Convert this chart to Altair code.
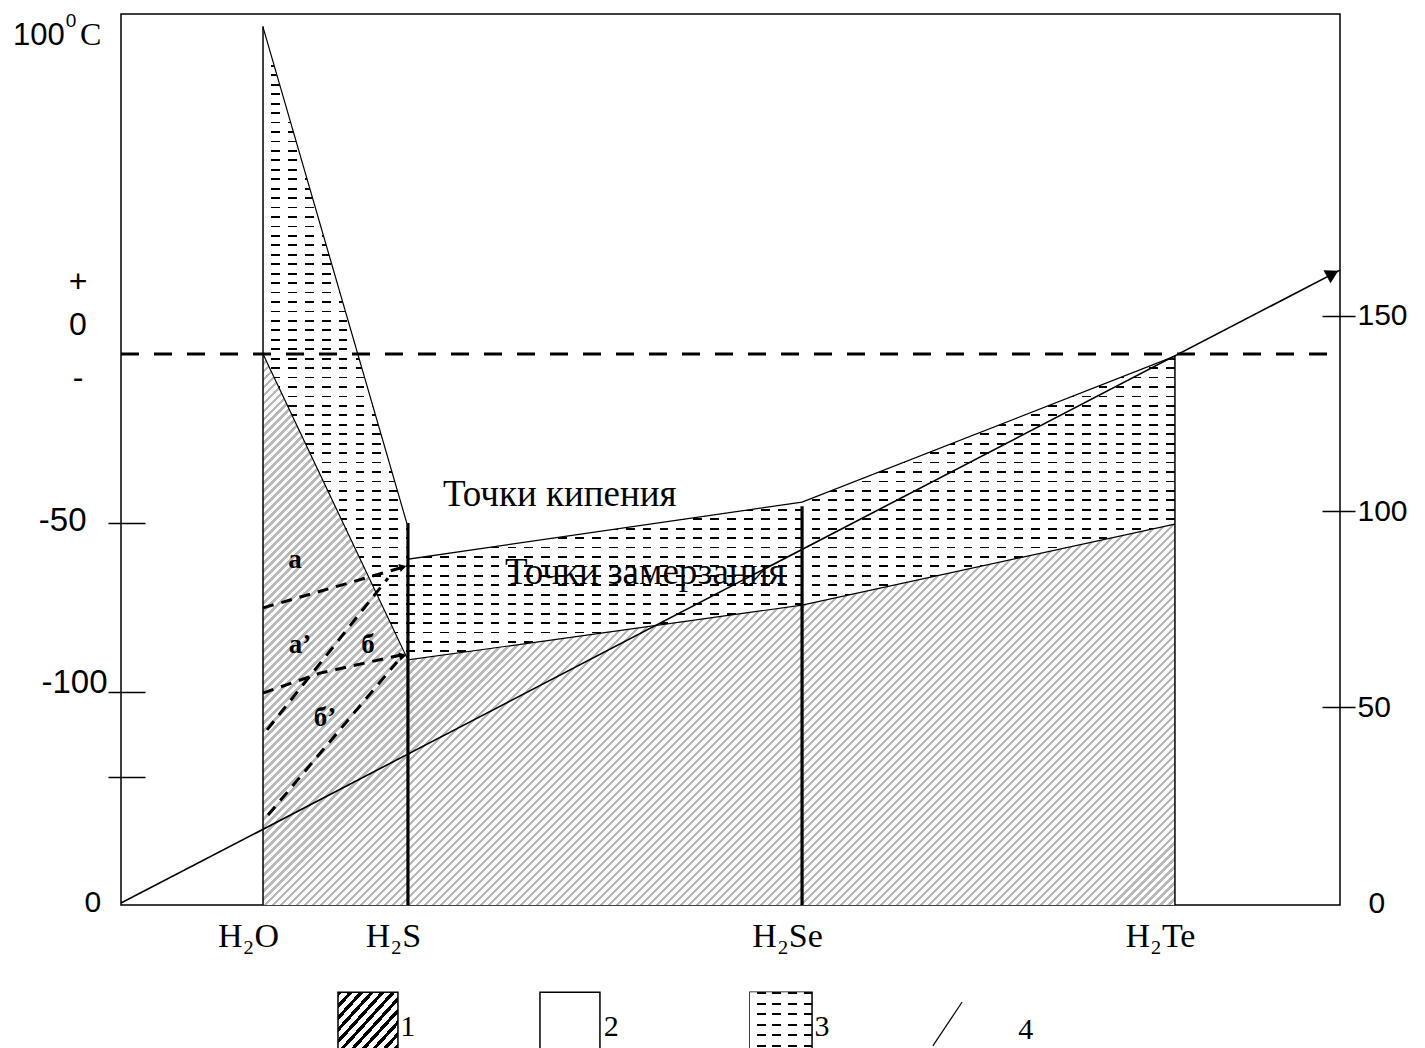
import altair as alt
import pandas as pd

# ---------------- values ----------------
compounds     = ["H₂O", "H₂S", "H₂Se", "H₂Te"]
compound_x    = [11.65, 23.54, 55.87, 86.46]          # position on the 0–100 horizontal scale
column_top_t  = [97.0, -50.0, -45.0, -0.3]            # upper ends of the compound lines, °C
column_width  = [1.5, 3.2, 3.2, 1.5]                  # style

# liquid band (3): boiling edge and freezing edge, H2S appears twice (kink)
band_x        = [11.65, 23.54, 23.54, 55.87, 86.46]
boiling_t     = [96.7, -51.2, -60.7, -43.8, -0.6]
band_freeze_t = [0.0, -90.5, -90.5, -74.3, -50.3]
freezing_t    = [0.0, -90.5, -74.3, -50.3]            # solid region (1) upper edge

# zero-degree dashed line
zero_x, zero_x2, zero_t = [0.0], [100.0], [0.0]

# line 4: molar mass (right scale)
mass_x        = [0.0, 100.0]
mass_m        = [0.0, 161.6]
mass_arrow_x  = [99.4]
mass_arrow_m  = [160.7]

# dashed transition lines a, a', б, б'
trans_name    = ["a", "a", "a2", "a2", "a2", "b", "b", "b2", "b2"]
trans_x       = [11.65, 22.89, 11.65, 16.32, 22.89, 11.98, 21.90, 12.06, 22.64]
trans_t       = [-75.1, -63.3, -100.3, -94.4, -89.1, -111.2, -66.3, -136.4, -91.1]
trans_arrow_x = [23.13, 23.13]
trans_arrow_t = [-63.0, -89.3]
trans_arrow_angle = [344, 347]

left_ticks    = [-50, -100, -125]
right_ticks   = [0, 50, 100, 150]

phase_labels  = ["а", "а’", "б", "б’"]
phase_x       = [14.27, 14.68, 20.26, 16.73]
phase_t       = [-60.9, -86.1, -86.1, -107.7]

curve_labels  = ["Точки кипения", "Точки замерзания"]
curve_x       = [26.41, 31.50]
curve_t       = [-41.7, -64.8]

side_labels   = ["+", "0", "-"]
side_x        = [-3.53, -3.53, -3.53]
side_t        = [21.3, 8.6, -7.1]

legend_keys   = ["1", "2", "3", "4"]
legend_key_x  = [22.9, 39.6, 56.9, 73.6]
legend_key_t  = [-199.1, -199.1, -199.1, -200.0]
legend_box_x  = [17.80, 34.37, 51.60]
legend_box_x2 = [22.72, 39.29, 56.69]
legend_box_t  = [-188.8, -188.8, -188.8]
legend_box_t2 = [-207.4, -207.4, -207.4]
legend_line_x = [66.6, 69.0]
legend_line_t = [-204.7, -191.7]

T_MIN, T_MAX = -163.0, 100.6
M_MIN, M_MAX = -0.5, 227.0
W, H = 1219, 891

# ---------------- helpers ----------------
def stripes(n, on, off, frac):
    stops = []
    for i in range(n):
        a, b, c = i / n, (i + frac) / n, (i + 1) / n
        stops += [{"color": on, "offset": round(a, 6)}, {"color": on, "offset": round(b, 6)},
                  {"color": off, "offset": round(b, 6)}, {"color": off, "offset": round(c, 6)}]
    return stops

def diag_gradient(w, h, period, on, off, frac):
    r = h / w
    k = (1 + r) / (1 + r * r)
    n = max(1, round((w + h) / period))
    return {"gradient": "linear", "x1": 0, "y1": 0, "x2": round(k, 5), "y2": round(k * r, 5),
            "stops": stripes(n, on, off, frac)}

def rows_gradient(h, period, frac):
    return {"gradient": "linear", "x1": 0, "y1": 0, "x2": 0, "y2": 1,
            "stops": stripes(max(1, round(h / period)), "black", "white", frac)}

def gaps_gradient(w, period, frac):
    return {"gradient": "linear", "x1": 0, "y1": 0, "x2": 1, "y2": 0,
            "stops": stripes(max(1, round(w / period)), "white", "rgba(255,255,255,0)", frac)}

thresholds = [(compound_x[i] + compound_x[i + 1]) / 2 for i in range(len(compound_x) - 1)]
label_expr = ""
for th, name in zip(thresholds, compounds[:-1]):
    label_expr += f"datum.value < {th:.2f} ? '{name}' : "
label_expr += f"'{compounds[-1]}'"

xscale = alt.Scale(domain=[0, 100], nice=False, zero=False)
yscale = alt.Scale(domain=[T_MIN, T_MAX], nice=False, zero=False)
mscale = alt.Scale(domain=[M_MIN, M_MAX], nice=False, zero=False)

x_axis = alt.Axis(values=compound_x, labelExpr=label_expr, tickSize=0, domain=False, grid=False,
                  title=None, labelFont="Liberation Serif", labelFontSize=34, labelColor="black",
                  labelPadding=14, labelOffset=-15, labelOverlap=False)
y_axis = alt.Axis(values=left_ticks, orient="left", title=None, grid=False, domain=False,
                  labelExpr="datum.value == -125 ? '' : '' + datum.value",
                  tickSize=37, offset=-24, tickColor="black", tickWidth=1.5,
                  labelFont="Liberation Sans", labelFontSize=33, labelColor="black",
                  labelBaseline="alphabetic",
                  labelPadding={"condition": {"test": "datum.value == -50", "value": 22}, "value": 1},
                  labelOffset={"condition": {"test": "datum.value == -50", "value": 7}, "value": 0})
m_axis = alt.Axis(values=right_ticks, orient="right", title=None, grid=False, domain=False,
                  tickSize=33, offset=-18, tickColor="black", tickWidth=1.5,
                  tickOpacity={"condition": {"test": "datum.value == 0", "value": 0}, "value": 1},
                  labelFont="Liberation Sans", labelFontSize=30, labelColor="black",
                  labelBaseline="middle",
                  labelPadding={"condition": {"test": "datum.value == 0", "value": 13}, "value": 2})

X = alt.X("x:Q", scale=xscale, axis=x_axis)
Y = alt.Y("t:Q", scale=yscale, axis=y_axis)
Y2 = alt.Y2("t2:Q")

# ---------------- tables ----------------
solid_df = pd.DataFrame({"x": compound_x, "t": freezing_t, "t2": [T_MIN] * len(compound_x)})
band_df = pd.DataFrame({"x": band_x, "t": boiling_t, "t2": band_freeze_t})
boil_df = pd.DataFrame({"x": band_x, "t": boiling_t})
freeze_df = pd.DataFrame({"x": compound_x, "t": freezing_t})
cols_df = pd.DataFrame({"x": compound_x, "t": column_top_t, "t2": [T_MIN] * 4, "w": column_width})
zero_df = pd.DataFrame({"x": zero_x, "x2": zero_x2, "t": zero_t})
trans_df = pd.DataFrame({"x": trans_x, "t": trans_t, "name": trans_name})
tarrow_df = pd.DataFrame({"x": trans_arrow_x, "t": trans_arrow_t, "a": trans_arrow_angle})
mass_df = pd.DataFrame({"x": mass_x, "m": mass_m})
marrow_df = pd.DataFrame({"x": mass_arrow_x, "m": mass_arrow_m})

# ---------------- layers ----------------
solid = alt.Chart(solid_df).mark_area(
    fill=diag_gradient(912, 551, 8, "#b8b8b8", "white", 0.42)
).encode(x=X, y=Y, y2=Y2)

band_rows = alt.Chart(band_df).mark_area(fill=rows_gradient(633, 9.5, 0.19)).encode(x=X, y=Y, y2=Y2)
band_gaps = alt.Chart(band_df).mark_area(fill=gaps_gradient(912, 17, 0.48)).encode(x=X, y=Y, y2=Y2)

boil_line = alt.Chart(boil_df).mark_line(color="black", strokeWidth=1.2).encode(x=X, y=Y)
freeze_line = alt.Chart(freeze_df).mark_line(color="black", strokeWidth=1.2).encode(x=X, y=Y)

zero_line = alt.Chart(zero_df).mark_rule(color="black", strokeWidth=3, strokeDash=[18, 15]).encode(
    x=X, x2="x2:Q", y=Y)

columns = alt.Chart(cols_df).mark_rule(color="black").encode(
    x=X, y=Y, y2=Y2, strokeWidth=alt.StrokeWidth("w:Q", scale=None))

trans = alt.Chart(trans_df).mark_line(color="black", strokeWidth=3, strokeDash=[11, 8]).encode(
    x=X, y=Y, detail="name:N")
trans_arrows = alt.Chart(tarrow_df).mark_point(
    shape="triangle-right", filled=True, color="black", size=70, opacity=1).encode(
    x=X, y=Y, angle=alt.Angle("a:Q", scale=None))

def texts(labels, xs, ts, **kw):
    df = pd.DataFrame({"x": xs, "t": ts, "label": labels})
    return alt.Chart(df).mark_text(color="black", **kw).encode(x=X, y=Y, text="label:N")

curve_text = texts(curve_labels, curve_x, curve_t, font="Liberation Serif", fontSize=37,
                   align="left", baseline="middle")
phase_text = texts(phase_labels, phase_x, phase_t, font="Liberation Serif", fontSize=27,
                   fontWeight="bold", align="center", baseline="middle")
side_text = texts(side_labels, side_x, side_t, font="Liberation Sans", fontSize=32,
                  align="center", baseline="middle")
hundred = texts(["100"], [-8.86], [91.4], font="Liberation Sans", fontSize=31,
                align="left", baseline="alphabetic")
degree = texts(["0"], [-4.10], [98.5], font="Liberation Sans", fontSize=19,
               align="center", baseline="middle")
celsius = texts(["C"], [-3.36], [91.4], font="Liberation Serif", fontSize=32,
                align="left", baseline="alphabetic")
origin0 = texts(["0"], [-2.30], [-162.4], font="Liberation Sans", fontSize=30,
                align="center", baseline="middle")

# legend
box_df = pd.DataFrame({"x": legend_box_x, "x2": legend_box_x2, "t": legend_box_t, "t2": legend_box_t2})
def box(i, fill):
    return alt.Chart(box_df.iloc[[i]]).mark_rect(fill=fill, stroke="black", strokeWidth=1.5).encode(
        x=X, x2="x2:Q", y=Y, y2=Y2)
box1 = box(0, diag_gradient(60, 57, 11, "black", "white", 0.42))
box2 = box(1, "white")
box3 = box(2, rows_gradient(57, 9.5, 0.19))
box3g = alt.Chart(box_df.iloc[[2]]).mark_rect(fill=gaps_gradient(60, 15, 0.45)).encode(
    x=X, x2="x2:Q", y=Y, y2=Y2)
legend_text = texts(legend_keys, legend_key_x, legend_key_t, font="Liberation Serif", fontSize=30,
                    align="left", baseline="middle")
legend_line = alt.Chart(pd.DataFrame({"x": legend_line_x, "t": legend_line_t})).mark_line(
    color="black", strokeWidth=1.2).encode(x=X, y=Y)

temp_group = alt.layer(
    solid, band_rows, band_gaps, boil_line, freeze_line, zero_line, columns, trans, trans_arrows,
    curve_text, phase_text, side_text, hundred, degree, celsius, origin0,
    box1, box2, box3, box3g, legend_text, legend_line)

M = alt.Y("m:Q", scale=mscale, axis=m_axis)
mass_line = alt.Chart(mass_df).mark_line(color="black", strokeWidth=1.6).encode(x=X, y=M)
mass_arrow = alt.Chart(marrow_df).mark_point(
    shape="triangle-right", filled=True, color="black", size=220, angle=332, opacity=1).encode(x=X, y=M)
mass_group = alt.layer(mass_line, mass_arrow)

chart = alt.layer(temp_group, mass_group).resolve_scale(y="independent").properties(
    width=W, height=H,
    autosize=alt.AutoSizeParams(type="none"),
    padding={"left": 113, "top": 6, "right": 77, "bottom": 143},
    background="white",
).configure_view(stroke="black", strokeWidth=1.5)

chart.save("out.html", embed_options={"renderer": "svg", "actions": False})
